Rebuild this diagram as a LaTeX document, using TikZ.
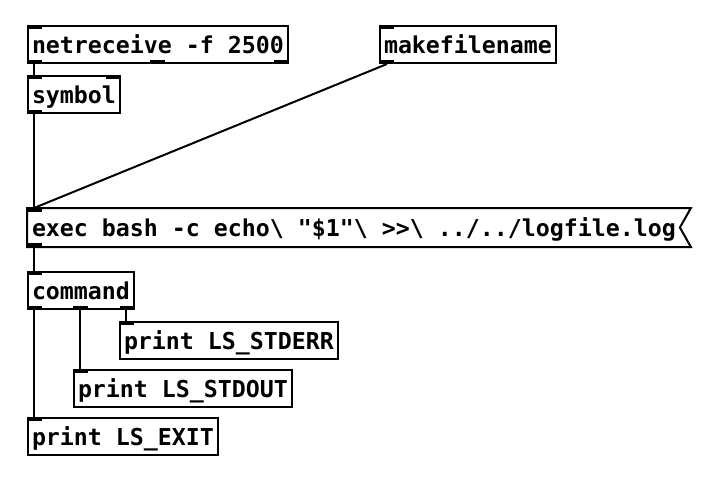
\documentclass[tikz,border=0pt]{standalone}
\usepackage{fontspec}
\setmonofont{DejaVu Sans Mono}
\usepackage{tikz}

\tikzset{
  pdobj/.style={draw, line width=2pt, anchor=north west, inner xsep=4pt, inner ysep=0pt,
    minimum height=37pt, text height=17.5pt, text depth=0pt,
    font=\fontsize{23.25}{23.25}\selectfont\ttfamily\bfseries},
  pdmsg/.style={pdobj, draw=none},
  pdwire/.style={line width=2pt},
}
% inlets and outlets
\newcommand{\pdin}[1]{\fill (#1.north west) rectangle ++(15,4);}
\newcommand{\pdinR}[1]{\fill (#1.north east) rectangle ++(-15,4);}
\newcommand{\pdout}[1]{\fill (#1.south west) rectangle ++(15,-4);}
\newcommand{\pdoutM}[1]{\fill ([xshift=-7.5pt]#1.south) rectangle ++(15,-4);}
\newcommand{\pdoutR}[1]{\fill (#1.south east) rectangle ++(-15,-4);}

\begin{document}
\begin{tikzpicture}[x=1pt,y=-1pt]
	\useasboundingbox (0,0) rectangle (722,500);

	\node[pdobj] (nr) at (27,25) {netreceive -f 2500};
	\node[pdobj] (mkf) at (379,25) {makefilename};
	\node[pdobj] (sym) at (27,75) {symbol};
	\node[pdmsg] (msg) at (27,208) {exec bash -c echo\textbackslash{} "\$1"\textbackslash{} >>\textbackslash{} ../../logfile.log};
	\draw[pdwire] (msg.north west) -- ([xshift=10pt]msg.north east) -- ([xshift=-1pt]msg.east)
		-- ([xshift=10pt]msg.south east) -- (msg.south west) -- cycle;
	\node[pdobj] (cmd) at (27,271) {command};
	\node[pdobj] (err) at (119,321) {print LS\_STDERR};
	\node[pdobj] (out) at (73,369) {print LS\_STDOUT};
	\node[pdobj] (ext) at (27,417) {print LS\_EXIT};

	\pdin{nr} \pdout{nr} \pdoutM{nr} \pdoutR{nr}
	\pdin{mkf} \pdout{mkf}
	\pdin{sym} \pdinR{sym} \pdout{sym}
	\pdin{msg} \pdout{msg}
	\pdin{cmd} \pdout{cmd} \pdoutM{cmd} \pdoutR{cmd}
	\pdin{err} \pdin{out} \pdin{ext}

	% connections
	\draw[pdwire] ([xshift=7pt]nr.south west) -- ([xshift=7pt]sym.north west);
	\draw[pdwire] ([xshift=7pt]sym.south west) -- ([xshift=7pt]msg.north west);
	\draw[pdwire] ([xshift=8pt]mkf.south west) -- ([xshift=7pt]msg.north west);
	\draw[pdwire] ([xshift=7pt]msg.south west) -- ([xshift=7pt]cmd.north west);
	\draw[pdwire] ([xshift=7pt]cmd.south west) -- ([xshift=7pt]ext.north west);
	\draw[pdwire] ([xshift=7pt]out.north west |- cmd.south) -- ([xshift=7pt]out.north west);
	\draw[pdwire] ([xshift=7pt]err.north west |- cmd.south) -- ([xshift=7pt]err.north west);
\end{tikzpicture}
\end{document}
